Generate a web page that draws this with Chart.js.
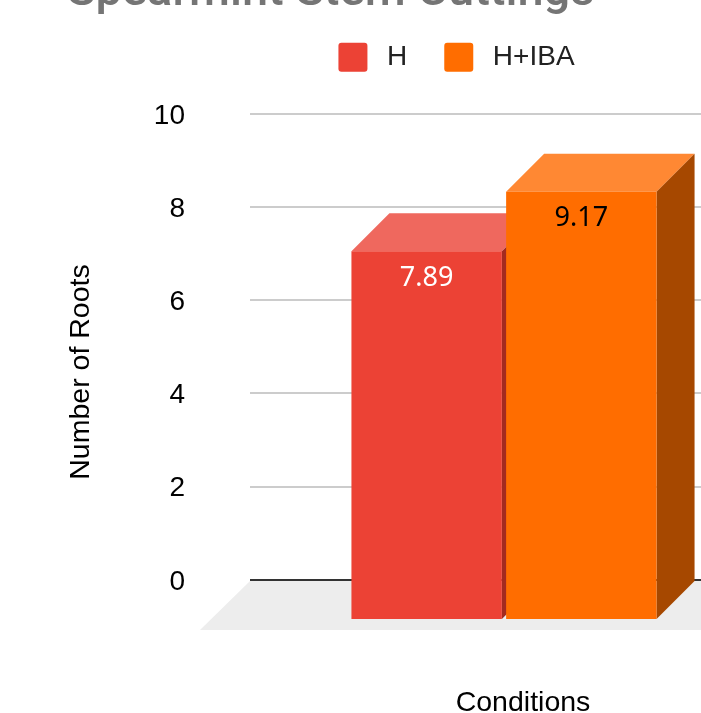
<!DOCTYPE html>
<html>
<head>
<meta charset="utf-8">
<style>
  html, body { margin: 0; background: #fff; overflow: hidden; }
  canvas { display: block; }
</style>
<script src="https://cdn.jsdelivr.net/npm/chart.js@4"></script>
</head>
<body>
<canvas id="chart" width="913" height="713"></canvas>
<script>
const chartTitle = 'Spearmint Stem Cuttings'
const xAxisTitle = 'Conditions'
const yAxisTitle = 'Number of Roots'
const categories = ['Conditions']
const seriesNames = ['H', 'H+IBA']
const seriesH = [7.89]
const seriesHIba = [9.17]
const yTicks = [0, 2, 4, 6, 8, 10]

const faceColors = [
  { front: '#ec4235', top: '#ef685e', side: '#a32a20', label: '#ffffff' },
  { front: '#ff6d00', top: '#ff8833', side: '#a64800', label: '#000000' }
]
const barDepth = 38
const floorDepth = 50
const axisFont = 'Liberation Sans, Arial, sans-serif'

const solid = (ctx, color, points) => {
  ctx.fillStyle = color
  ctx.beginPath()
  points.forEach(([x, y], i) => (i ? ctx.lineTo(x, y) : ctx.moveTo(x, y)))
  ctx.closePath()
  ctx.fill()
}

// the library only draws the flat front of each bar, the rest of the box goes here
const boxes = {
  id: 'boxes',
  beforeDatasetsDraw(chart) {
    const { ctx, chartArea } = chart
    const floorTop = chart.scales.y.getPixelForValue(0) + 1
    ctx.save()
    solid(ctx, '#ededed', [
      [chartArea.left, floorTop],
      [chartArea.right, floorTop],
      [chartArea.right, chartArea.bottom],
      [chartArea.left - floorDepth, chartArea.bottom]
    ])
    chart.data.datasets.forEach((set, i) => {
      for (const bar of chart.getDatasetMeta(i).data) {
        const left = bar.x - bar.width / 2
        const right = bar.x + bar.width / 2
        solid(ctx, faceColors[i].top, [
          [left, bar.y],
          [left + barDepth, bar.y - barDepth],
          [right + barDepth, bar.y - barDepth],
          [right, bar.y]
        ])
        solid(ctx, faceColors[i].side, [
          [right, bar.y],
          [right + barDepth, bar.y - barDepth],
          [right + barDepth, bar.base - barDepth],
          [right, bar.base]
        ])
      }
    })
    ctx.restore()
  },
  afterDatasetsDraw(chart) {
    const { ctx } = chart
    ctx.save()
    ctx.font = '27px "Noto Sans", sans-serif'
    ctx.textAlign = 'center'
    ctx.textBaseline = 'middle'
    chart.data.datasets.forEach((set, i) => {
      chart.getDatasetMeta(i).data.forEach((bar, j) => {
        ctx.fillStyle = faceColors[i].label
        ctx.fillText(set.data[j].toFixed(2), bar.x, bar.y + 27)
      })
    })
    ctx.restore()
  }
}

// the three titles sit off the plot's centre lines, so they are placed by hand
const titles = {
  id: 'titles',
  afterDraw(chart) {
    const { ctx } = chart
    ctx.save()
    ctx.textBaseline = 'alphabetic'
    ctx.textAlign = 'left'
    ctx.fillStyle = '#757575'
    ctx.font = '500 47px Roboto, sans-serif'
    ctx.fillText(chartTitle, 67, 5)
    ctx.textAlign = 'center'
    ctx.fillStyle = '#000000'
    ctx.font = '28.5px ' + axisFont
    ctx.fillText(xAxisTitle, 523, 711)
    ctx.translate(89, 372)
    ctx.rotate(-Math.PI / 2)
    ctx.fillText(yAxisTitle, 0, 0)
    ctx.restore()
  }
}

new Chart(document.getElementById('chart'), {
  type: 'bar',
  data: {
    labels: categories,
    datasets: [
      { label: seriesNames[0], data: seriesH, backgroundColor: faceColors[0].front, yAxisID: 'y2' },
      { label: seriesNames[1], data: seriesHIba, backgroundColor: faceColors[1].front, yAxisID: 'y2' }
    ]
  },
  options: {
    responsive: false,
    animation: false,
    layout: { padding: { top: 5, bottom: 83 } },
    datasets: { bar: { categoryPercentage: 0.609, barPercentage: 0.9725 } },
    plugins: {
      title: { display: false },
      tooltip: { enabled: false },
      legend: {
        position: 'top',
        labels: {
          boxWidth: 29,
          boxHeight: 29,
          padding: 37,
          useBorderRadius: true,
          borderRadius: 3,
          color: '#222222',
          font: { family: axisFont, size: 28 },
          generateLabels(chart) {
            return Chart.defaults.plugins.legend.labels.generateLabels(chart).map(item => ({
              ...item,
              text: '\u2009' + item.text
            }))
          }
        }
      }
    },
    scales: {
      x: { display: false },
      // gridlines and ticks live on the back wall of the box
      y: {
        position: 'left',
        min: -1.075,
        max: 10.688,
        afterBuildTicks(scale) {
          scale.ticks = yTicks.map(value => ({ value }))
        },
        afterFit(scale) {
          scale.width = 250
        },
        border: { display: false },
        grid: {
          drawTicks: false,
          lineWidth: 2,
          color: c => (c.tick.value === 0 ? '#333333' : '#cccccc')
        },
        ticks: {
          padding: 65,
          labelOffset: 2,
          color: '#000000',
          font: { family: axisFont, size: 28 }
        }
      },
      // front faces sit nearer the viewer, so their zero is lower on the page
      y2: {
        position: 'right',
        min: -0.2366,
        max: 11.527,
        grid: { display: false },
        border: { display: false },
        ticks: { display: false },
        afterFit(scale) {
          scale.width = 155
        }
      }
    }
  },
  plugins: [boxes, titles]
})
</script>
</body>
</html>
